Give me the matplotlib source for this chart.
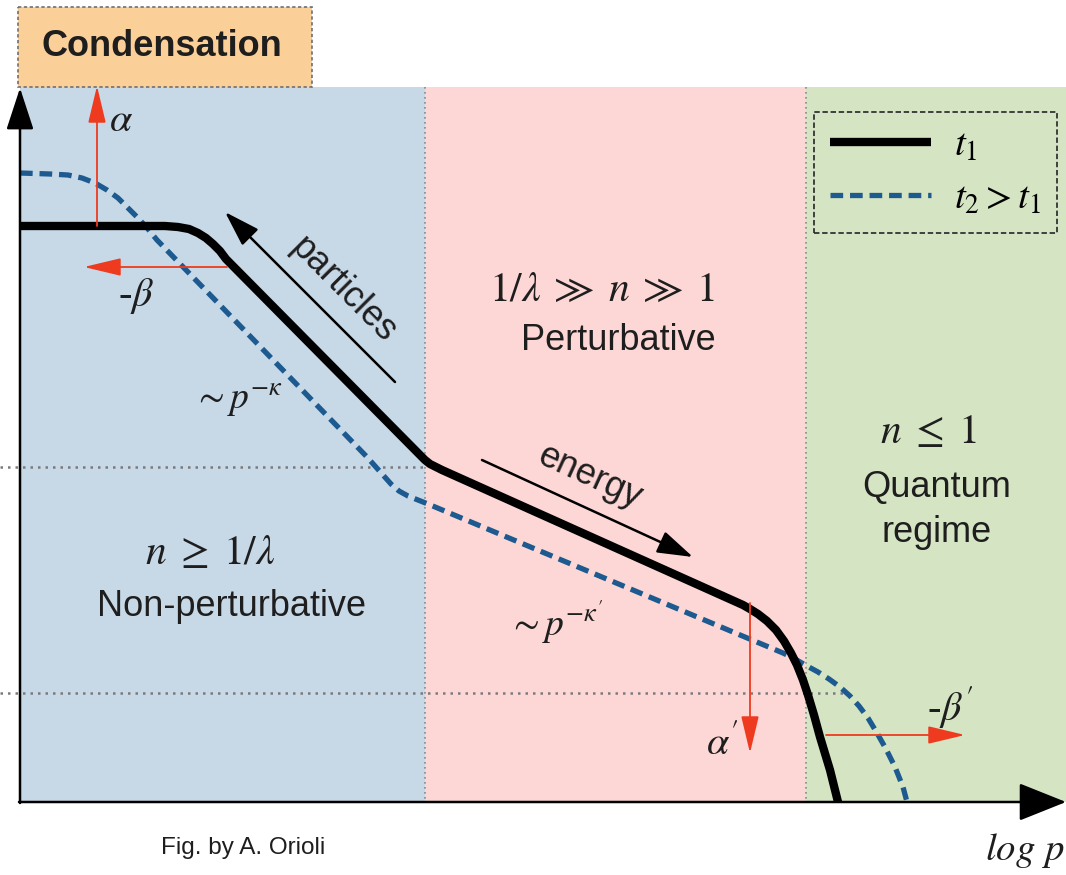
import matplotlib
matplotlib.use("Agg")
from matplotlib import pyplot as plt
from matplotlib.patches import Rectangle

plt.rcParams['font.family'] = 'Liberation Sans'
plt.rcParams['mathtext.fontset'] = 'stix'

# curve t1 (solid black), picture coordinates (x right, y down)
t1_x = [20, 165, 178, 189, 198, 206, 213, 220, 226, 420, 425, 430, 436, 442, 743, 750, 758, 767, 776, 784, 791, 797, 803, 808, 814, 820, 830, 838]
t1_y = [226, 226, 227, 229, 233, 238, 244, 251, 259, 455, 460, 464, 467, 470, 605, 609, 614, 621, 630, 641, 653, 665, 680, 695, 715, 737, 770, 802]

# curve t2 > t1 (dashed blue)
t2_x = [20, 50, 68, 82, 95, 107, 118, 128, 138, 148, 157, 367, 375, 383, 391, 399, 408, 418, 428, 783, 795, 807, 818, 829, 840, 850, 859, 868, 877, 886, 895, 903, 907]
t2_y = [173, 174, 175, 178, 183, 190, 198, 208, 218, 229, 240, 457, 466, 475, 484, 491, 496, 500, 504, 653, 659, 666, 672, 679, 687, 696, 706, 718, 733, 749, 767, 787, 802]

# regions along log p
region_edges = [20, 425, 806, 1066]
region_colors = ['#c7d8e7', '#fdd7d6', '#d5e4c3']
region_top, axis_y = 87, 802

# dotted reference levels (y, x end)
levels = [(467, 425), (693, 845)]

# red arrows: (tail, tip)
red_arrows = [((97, 226), (97, 86)), ((227, 267), (84, 267)),
              ((750, 603), (750, 753)), ((826, 735), (965, 735))]
# black flux arrows: (tail, tip)
flux_arrows = [((395, 382), (225, 212)), ((482, 460), (693, 557))]

red = '#ee3b1f'
blue = '#1c5a8f'
ink = '#1e1e1e'

fig = plt.figure(figsize=(10.66, 8.75), dpi=100)
ax = fig.add_axes([0, 0, 1, 1])
ax.set_xlim(0, 1066)
ax.set_ylim(875, 0)
ax.axis('off')

# shaded regions
for i, c in enumerate(region_colors):
    ax.add_patch(Rectangle((region_edges[i], region_top), region_edges[i + 1] - region_edges[i],
                           axis_y - region_top, facecolor=c, edgecolor='none', zorder=0))
for xe in region_edges[1:3]:
    ax.vlines(xe, region_top, axis_y, colors='#8a8a8a', linestyles=(0, (1, 2)), lw=1.2, zorder=1)
for ly, lx in levels:
    ax.hlines(ly, 0, lx, colors='#7a7a7a', linestyles=(0, (1, 2)), lw=1.8, zorder=1)

# condensation box
ax.add_patch(Rectangle((18, 7), 294, 80, facecolor='#fbcf98', edgecolor='#707070',
                       linestyle=(0, (2, 1.5)), lw=1.2, zorder=1))
ax.text(162, 46, 'Condensation', fontsize=26, fontweight='bold', color=ink,
        ha='center', va='center')

# curves
l1, = ax.plot(t1_x, t1_y, color='black', lw=6, solid_joinstyle='round',
              solid_capstyle='butt', zorder=4)
l2, = ax.plot(t2_x, t2_y, color=blue, lw=3.8, dashes=(2.4, 1.3), zorder=3)

# axes arrows
ax.annotate('', xy=(20, 88), xytext=(20, axis_y + 1), annotation_clip=False,
            arrowprops=dict(arrowstyle='-|>,head_length=2.6,head_width=0.85', mutation_scale=10,
                            color='black', lw=1.8, shrinkA=0, shrinkB=0), zorder=5)
ax.annotate('', xy=(1066, axis_y), xytext=(19, axis_y), annotation_clip=False,
            arrowprops=dict(arrowstyle='-|>,head_length=3.0,head_width=1.2', mutation_scale=10,
                            color='black', lw=1.8, shrinkA=0, shrinkB=0), zorder=5)

for tail, tip in red_arrows:
    ax.annotate('', xy=tip, xytext=tail, annotation_clip=False,
                arrowprops=dict(arrowstyle='-|>,head_length=2.3,head_width=0.55', mutation_scale=10,
                                color=red, lw=1.3, shrinkA=0, shrinkB=0), zorder=5)
for tail, tip in flux_arrows:
    ax.annotate('', xy=tip, xytext=tail,
                arrowprops=dict(arrowstyle='-|>,head_length=2.2,head_width=0.7', mutation_scale=10,
                                color='black', lw=1.8, shrinkA=0, shrinkB=0), zorder=5)

# labels
serif = dict(color=ink, ha='center', va='center')
ax.text(121, 120, r'$\alpha$', fontsize=29, **serif)
ax.text(136, 296, r'-$\beta$', fontsize=29, family='Liberation Serif', **serif)
ax.text(722, 743, r"$\alpha'$", fontsize=29, **serif)
ax.text(950, 707, r"-$\beta'$", fontsize=29, family='Liberation Serif', **serif)
ax.text(238, 400, r'$\sim p^{-\kappa}$', fontsize=27, **serif)
ax.text(556, 622, r"$\sim p^{-\kappa'}$", fontsize=27, **serif)
ax.text(602, 290, r'$1/\lambda\;\gg\;n\;\gg\;1$', fontsize=30, **serif)
ax.text(210, 553, r'$n\;\geq\;1/\lambda$', fontsize=30, **serif)
ax.text(928, 432, r'$n\;\leq\;1$', fontsize=30, **serif)
ax.text(1064, 850, r'$log\ p$', fontsize=28, color=ink, ha='right', va='center')

sans = dict(color=ink, ha='center', va='center', fontsize=26)
ax.text(618, 340, 'Perturbative', **sans)
ax.text(231, 607, 'Non-perturbative', **sans)
ax.text(937, 487, 'Quantum', **sans)
ax.text(937, 533, 'regime', **sans)
ax.text(343, 290, 'particles', rotation=-45, rotation_mode='anchor', **sans)
ax.text(590, 477, 'energy', rotation=-24.5, rotation_mode='anchor', **sans)
ax.text(243, 848, 'Fig. by A. Orioli', color=ink, ha='center', va='center', fontsize=17.5)

# legend
leg = ax.legend([l1, l2], [r'$t_1$', r'$t_2 > t_1$'], loc='upper right',
                bbox_to_anchor=(1057 / 1066, 1 - 112 / 875), borderaxespad=0, fontsize=28,
                handlelength=2.6, handletextpad=0.6, borderpad=0.4, labelspacing=0.45,
                fancybox=False, facecolor='#d5e4c3', edgecolor='#333333', framealpha=1)
leg.get_frame().set_linestyle((0, (3, 1.5)))
leg.get_frame().set_linewidth(1.3)

fig.savefig('out.png', dpi=100)
